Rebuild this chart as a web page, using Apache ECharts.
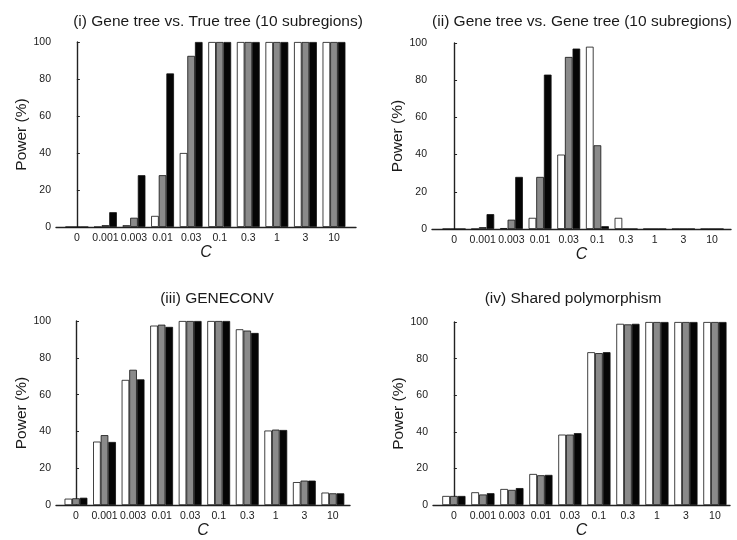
<!DOCTYPE html>
<html>
<head>
<meta charset="utf-8">
<script src="https://cdn.jsdelivr.net/npm/echarts@6/dist/echarts.min.js"></script>
<style>html,body{margin:0;padding:0;background:#fff;}#c{width:737px;height:540px;}</style>
</head>
<body>
<div id="c"></div>
<script>
// ---- data ----
var categories = ['0', '0.001', '0.003', '0.01', '0.03', '0.1', '0.3', '1', '3', '10'];
var yTicks = [0, 20, 40, 60, 80, 100];
var titles = [
  '(i) Gene tree vs. True tree (10 subregions)',
  '(ii) Gene tree vs. Gene tree (10 subregions)',
  '(iii) GENECONV',
  '(iv) Shared polymorphism'
];
// panel (i)
var p1White = [0, 0, 1, 6, 40, 100, 100, 100, 100, 100];
var p1Gray  = [0, 1, 5, 28, 92.5, 100, 100, 100, 100, 100];
var p1Black = [0, 8, 28, 83, 100, 100, 100, 100, 100, 100];
// panel (ii)
var p2White = [0, 0, 0.5, 6, 40, 98, 6, 0, 0, 0];
var p2Gray  = [0, 1, 5, 28, 92.5, 45, 0, 0, 0, 0];
var p2Black = [0, 8, 28, 83, 97, 1.5, 0, 0, 0, 0];
// panel (iii)
var p3White = [3.5, 34.5, 68, 97.5, 100, 100, 95.5, 40.5, 12.5, 6.8];
var p3Gray  = [3.7, 38, 73.5, 98, 100, 100, 94.8, 41, 13.3, 6.4];
var p3Black = [4, 34.3, 68.3, 96.8, 100, 100, 93.5, 40.8, 13.3, 6.4];
// panel (iv)
var p4White = [5, 7, 8.8, 17, 38.5, 83.5, 99, 100, 100, 100];
var p4Gray  = [5, 5.8, 8.3, 16.3, 38.5, 83, 98.7, 100, 100, 100];
var p4Black = [5, 6.5, 9.3, 16.5, 39.3, 83.5, 99, 100, 100, 100];

var panelData = [
  [p1White, p1Gray, p1Black],
  [p2White, p2Gray, p2Black],
  [p3White, p3Gray, p3Black],
  [p4White, p4Gray, p4Black]
];

// ---- layout ----
var FONT = '"Liberation Sans", Arial, Helvetica, sans-serif';
var TEXT = '#1a1a1a';
var grids = [
  {left: 56,  top: 42,  width: 300, height: 185, xmin: -0.73, xmax: 9.77, titleX: 213, titleY: 9},
  {left: 432, top: 43,  width: 299, height: 186, xmin: -0.77, xmax: 9.66, titleX: 577, titleY: 9},
  {left: 56,  top: 321, width: 294, height: 185, xmin: -0.70, xmax: 9.60, titleX: 212, titleY: 286},
  {left: 433, top: 322, width: 297, height: 185, xmin: -0.72, xmax: 9.52, titleX: 568, titleY: 286}
];
var fills = ['#ffffff', '#8a8a8a', '#050505'];
var seriesNames = ['white', 'gray', 'black'];

var option = {
  backgroundColor: '#ffffff',
  animation: false,
  title: [],
  grid: [],
  xAxis: [],
  yAxis: [],
  series: []
};

var idx = categories.map(function (c, i) { return i; });

grids.forEach(function (g, p) {
  option.title.push({
    text: titles[p],
    left: g.titleX,
    top: g.titleY,
    textAlign: 'center',
    textStyle: {fontFamily: FONT, fontSize: 15.5, fontWeight: 'normal', color: TEXT}
  });
  option.grid.push({left: g.left, top: g.top, width: g.width, height: g.height, containLabel: false});
  option.xAxis.push({
    type: 'value',
    gridIndex: p,
    min: g.xmin,
    max: g.xmax,
    name: 'C',
    nameLocation: 'middle',
    nameGap: 17,
    nameTextStyle: {fontFamily: FONT, fontSize: 16, fontStyle: 'italic', color: TEXT},
    axisLine: {show: true, onZero: false, lineStyle: {color: '#222', width: 1.4}},
    axisTick: {show: false},
    splitLine: {show: false},
    axisLabel: {
      customValues: idx,
      fontFamily: FONT, fontSize: 10.5, color: TEXT, margin: 6,
      formatter: function (v) {
        var r = Math.round(v);
        return (Math.abs(v - r) < 1e-6 && r >= 0 && r < categories.length) ? categories[r] : '';
      }
    }
  });
  option.yAxis.push({
    type: 'value',
    gridIndex: p,
    min: 0,
    max: 100,
    interval: 20,
    name: 'Power (%)',
    nameLocation: 'middle',
    nameGap: 26,
    nameTextStyle: {fontFamily: FONT, fontSize: 15.5, color: TEXT},
    axisLine: {show: true, lineStyle: {color: '#222', width: 1.4}},
    axisTick: {show: true, inside: true, length: 3, lineStyle: {color: '#222', width: 1}},
    splitLine: {show: false},
    axisLabel: {fontFamily: FONT, fontSize: 10.5, color: TEXT, margin: 5}
  });
  panelData[p].forEach(function (vals, s) {
    option.series.push({
      type: 'bar',
      name: seriesNames[s],
      xAxisIndex: p,
      yAxisIndex: p,
      barGap: '0%',
      barCategoryGap: '20%',
      data: vals.map(function (v, i) { return [i, v]; }),
      itemStyle: {color: fills[s], borderColor: '#111', borderWidth: 0.8},
      emphasis: {disabled: true}
    });
  });
});

var chart = echarts.init(document.getElementById('c'), null, {renderer: 'canvas'});
chart.setOption(option);
</script>
</body>
</html>
